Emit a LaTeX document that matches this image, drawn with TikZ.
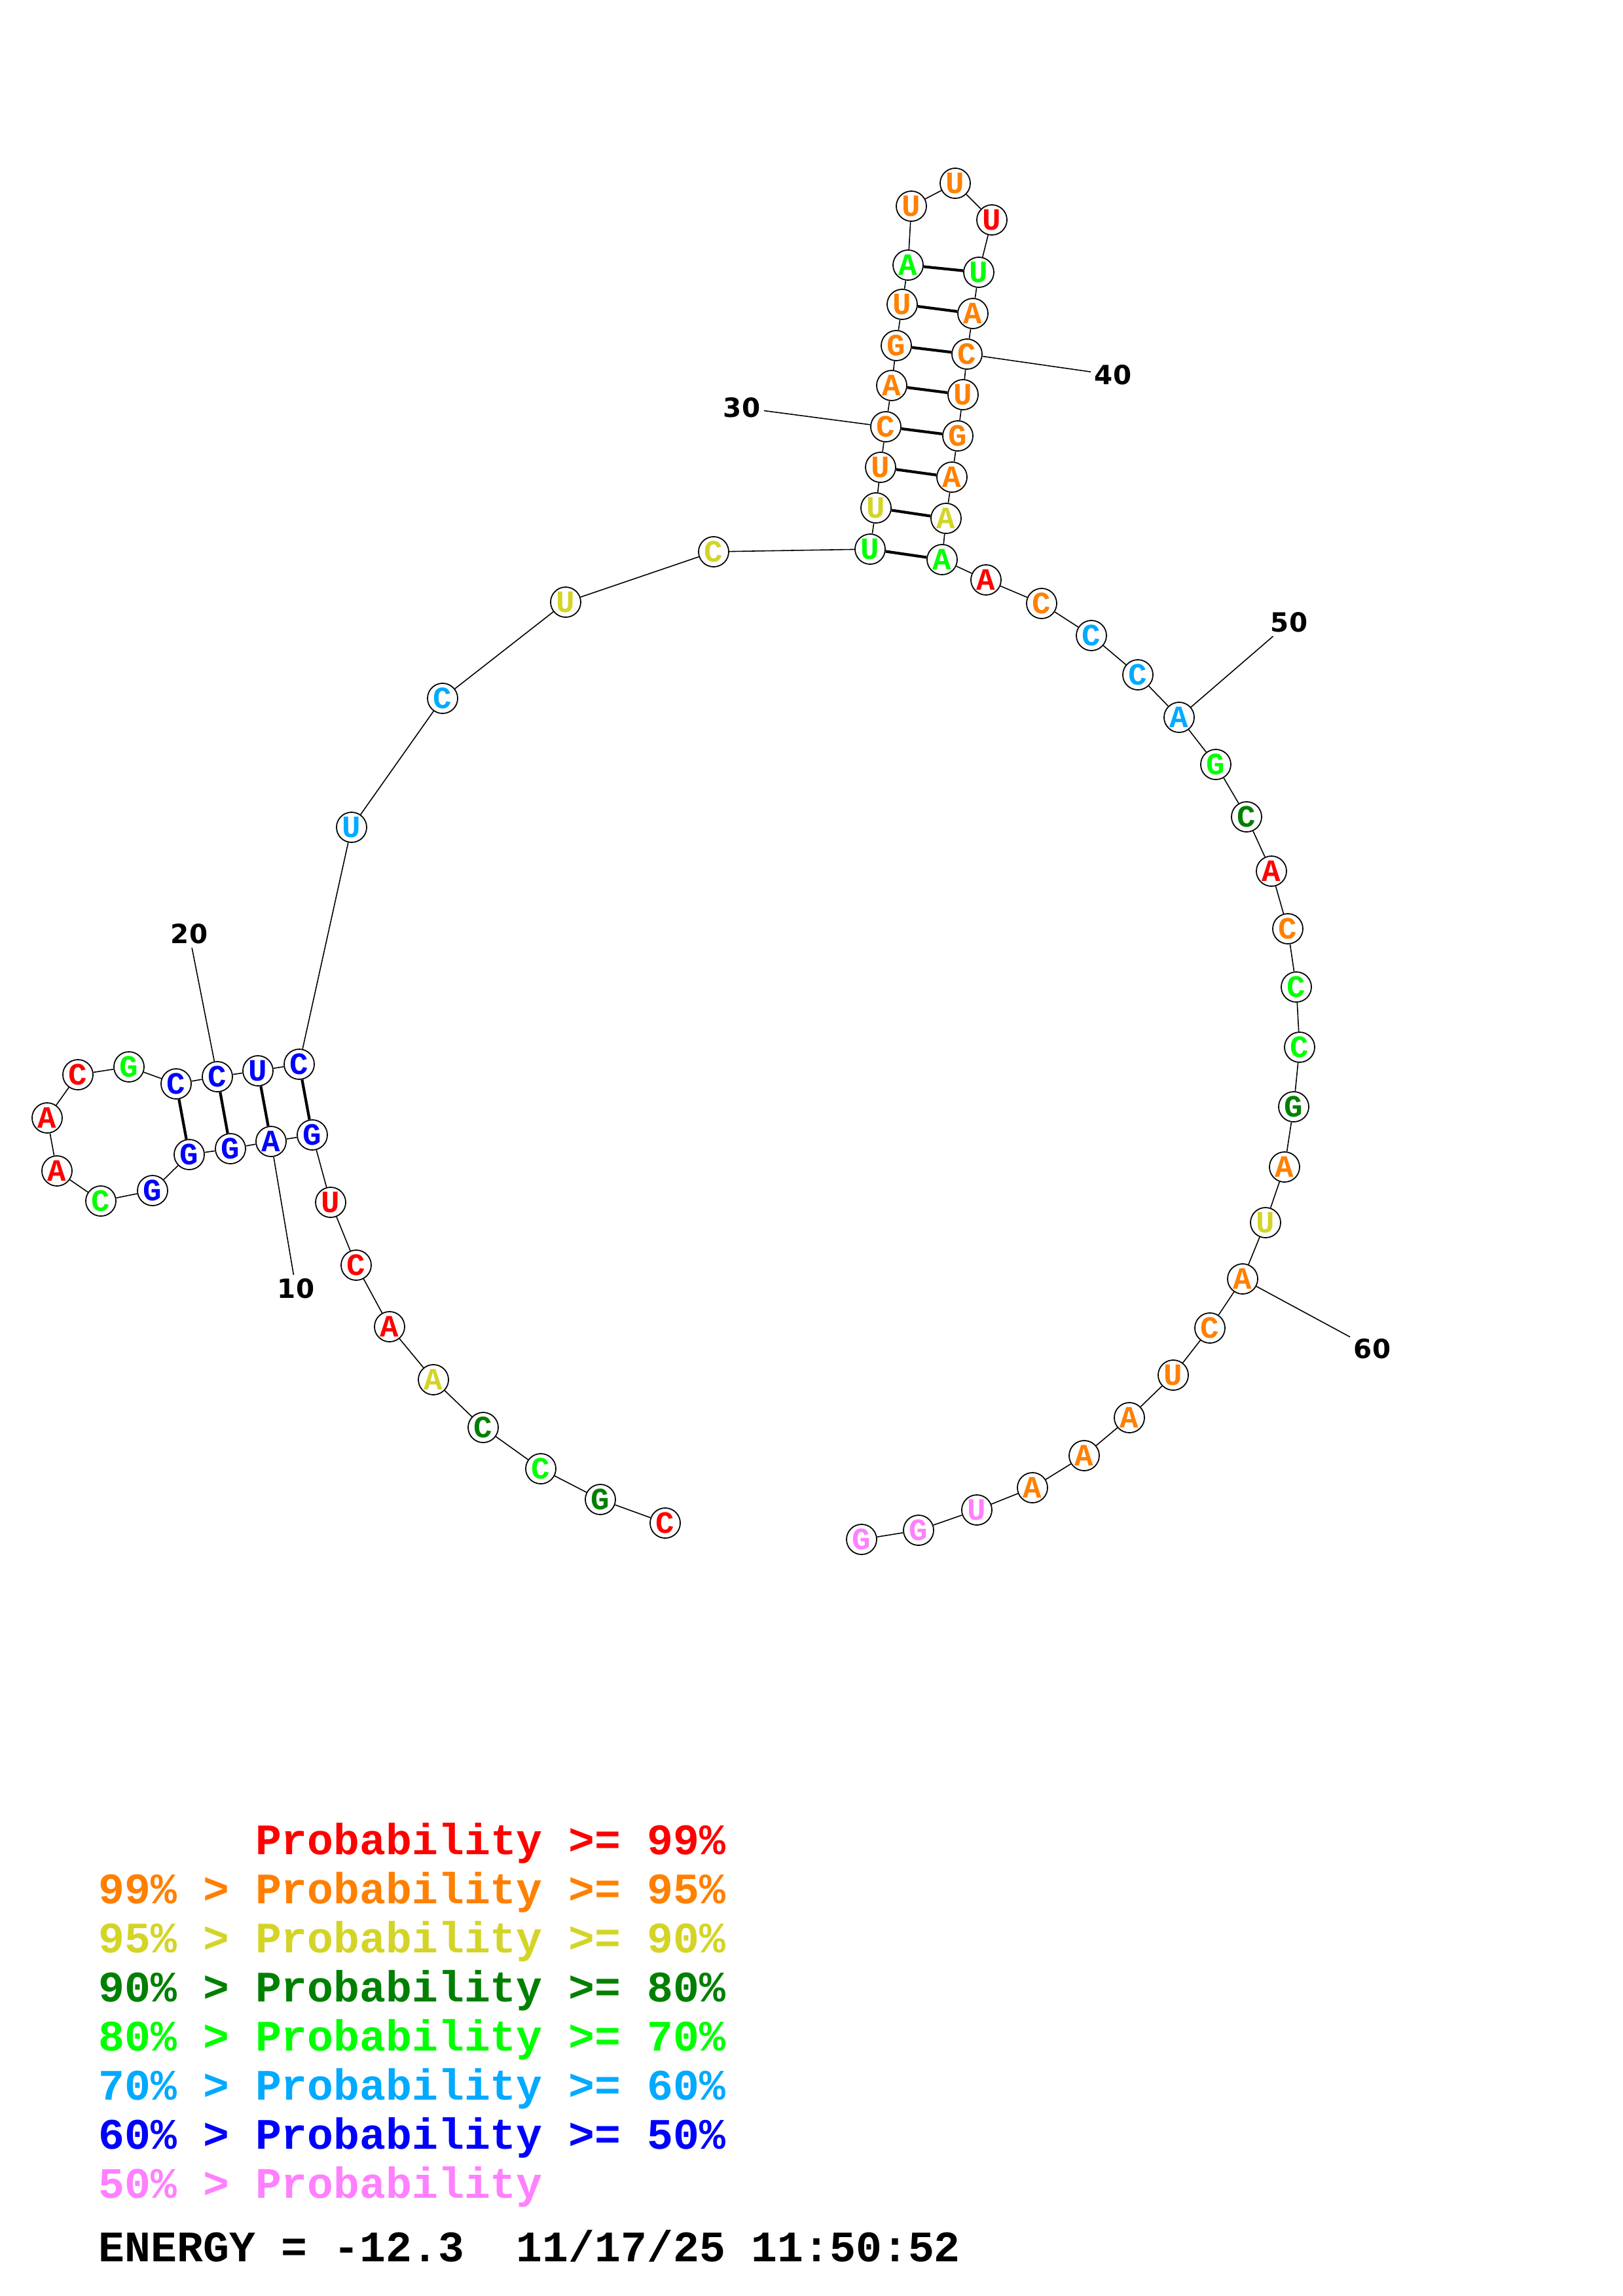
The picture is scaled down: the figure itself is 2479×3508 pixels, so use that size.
\documentclass[tikz,border=0pt]{standalone}
\usepackage{fontspec}
\setmonofont{Liberation Mono}
\newfontfamily\numfont{DejaVu Sans}

\definecolor{pred}{RGB}{255,0,0}
\definecolor{porange}{RGB}{255,128,0}
\definecolor{pyellow}{RGB}{212,212,40}
\definecolor{pdkgreen}{RGB}{0,128,0}
\definecolor{pgreen}{RGB}{0,255,0}
\definecolor{psky}{RGB}{0,170,255}
\definecolor{pblue}{RGB}{0,0,255}
\definecolor{ppink}{RGB}{255,128,255}

\tikzset{
  nt/.style={circle, draw, line width=0.5pt, minimum size=0.46cm, inner sep=0pt,
    font=\ttfamily\bfseries\fontsize{13.5}{13.5}\selectfont},
  q99/.style={nt, text=pred},
  q95/.style={nt, text=porange},
  q90/.style={nt, text=pyellow},
  q80/.style={nt, text=pdkgreen},
  q70/.style={nt, text=pgreen},
  q60/.style={nt, text=psky},
  q50/.style={nt, text=pblue},
  q00/.style={nt, text=ppink},
  bond/.style={line width=1.2pt},
  numlab/.style={inner sep=0.05cm, font=\numfont\bfseries\fontsize{11.5}{12}\selectfont},
  legend/.style={anchor=base west, inner sep=0pt, font=\ttfamily\bfseries\fontsize{18.9}{19}\selectfont}
}

\begin{document}
\begin{tikzpicture}[x=0.01cm, y=-0.01cm, line width=0.45pt]
  \useasboundingbox (0,0) rectangle (2479,3508);

  % 5' tail and first helix
  \node[q99] (n1) at (1016,2327) {C};
  \node[q80] (n2) at (917,2291) {G};
  \node[q70] (n3) at (826,2244) {C};
  \node[q80] (n4) at (738,2181) {C};
  \node[q90] (n5) at (662,2108) {A};
  \node[q99] (n6) at (595,2027) {A};
  \node[q99] (n7) at (544,1933) {C};
  \node[q99] (n8) at (505,1837) {U};
  \node[q50] (n9) at (477,1734) {G};
  \node[q50] (n10) at (414,1744) {A};
  \node[q50] (n11) at (352,1755) {G};
  \node[q50] (n12) at (289,1764) {G};
  \node[q50] (n13) at (233,1819) {G};
  \node[q70] (n14) at (154,1835) {C};
  \node[q99] (n15) at (87,1789) {A};
  \node[q99] (n16) at (72,1708) {A};
  \node[q99] (n17) at (119,1642) {C};
  \node[q70] (n18) at (197,1630) {G};
  \node[q50] (n19) at (269,1656) {C};
  \node[q50] (n20) at (332,1645) {C};
  \node[q50] (n21) at (394,1636) {U};
  \node[q50] (n22) at (457,1626) {C};
  \node[q60] (n23) at (537,1264) {U};
  \node[q60] (n24) at (676,1067) {C};
  \node[q90] (n25) at (864,920) {U};
  \node[q90] (n26) at (1090,843) {C};

  % hairpin
  \node[q70] (n27) at (1329,839) {U};
  \node[q90] (n28) at (1338,776) {U};
  \node[q95] (n29) at (1345,714) {U};
  \node[q95] (n30) at (1353,652) {C};
  \node[q95] (n31) at (1362,589) {A};
  \node[q95] (n32) at (1369,528) {G};
  \node[q95] (n33) at (1378,465) {U};
  \node[q70] (n34) at (1387,405) {A};
  \node[q95] (n35) at (1392,315) {U};
  \node[q95] (n36) at (1459,280) {U};
  \node[q99] (n37) at (1515,336) {U};
  \node[q70] (n38) at (1495,416) {U};
  \node[q95] (n39) at (1486,479) {A};
  \node[q95] (n40) at (1477,541) {C};
  \node[q95] (n41) at (1471,603) {U};
  \node[q95] (n42) at (1463,666) {G};
  \node[q95] (n43) at (1454,729) {A};
  \node[q90] (n44) at (1445,792) {A};
  \node[q70] (n45) at (1439,855) {A};

  % 3' tail
  \node[q99] (n46) at (1506,886) {A};
  \node[q95] (n47) at (1591,922) {C};
  \node[q60] (n48) at (1667,971) {C};
  \node[q60] (n49) at (1738,1031) {C};
  \node[q60] (n50) at (1801,1096) {A};
  \node[q70] (n51) at (1857,1168) {G};
  \node[q80] (n52) at (1904,1248) {C};
  \node[q99] (n53) at (1942,1331) {A};
  \node[q95] (n54) at (1967,1419) {C};
  \node[q70] (n55) at (1980,1508) {C};
  \node[q70] (n56) at (1985,1600) {C};
  \node[q80] (n57) at (1976,1691) {G};
  \node[q95] (n58) at (1962,1783) {A};
  \node[q90] (n59) at (1933,1868) {U};
  \node[q95] (n60) at (1898,1954) {A};
  \node[q95] (n61) at (1848,2029) {C};
  \node[q95] (n62) at (1792,2101) {U};
  \node[q95] (n63) at (1725,2166) {A};
  \node[q95] (n64) at (1656,2224) {A};
  \node[q95] (n65) at (1577,2273) {A};
  \node[q00] (n66) at (1492,2307) {U};
  \node[q00] (n67) at (1403,2338) {G};
  \node[q00] (n68) at (1316,2352) {G};

  % backbone
  \draw (n1) -- (n2) -- (n3) -- (n4) -- (n5) -- (n6) -- (n7) -- (n8) -- (n9)
    -- (n10) -- (n11) -- (n12) -- (n13) -- (n14) -- (n15) -- (n16) -- (n17)
    -- (n18) -- (n19) -- (n20) -- (n21) -- (n22) -- (n23) -- (n24) -- (n25)
    -- (n26) -- (n27) -- (n28) -- (n29) -- (n30) -- (n31) -- (n32) -- (n33)
    -- (n34) -- (n35) -- (n36) -- (n37) -- (n38) -- (n39) -- (n40) -- (n41)
    -- (n42) -- (n43) -- (n44) -- (n45) -- (n46) -- (n47) -- (n48) -- (n49)
    -- (n50) -- (n51) -- (n52) -- (n53) -- (n54) -- (n55) -- (n56) -- (n57)
    -- (n58) -- (n59) -- (n60) -- (n61) -- (n62) -- (n63) -- (n64) -- (n65)
    -- (n66) -- (n67) -- (n68);

  % base pairs
  \draw[bond] (n9) -- (n22);
  \draw[bond] (n10) -- (n21);
  \draw[bond] (n11) -- (n20);
  \draw[bond] (n12) -- (n19);
  \draw[bond] (n27) -- (n45);
  \draw[bond] (n28) -- (n44);
  \draw[bond] (n29) -- (n43);
  \draw[bond] (n30) -- (n42);
  \draw[bond] (n31) -- (n41);
  \draw[bond] (n32) -- (n40);
  \draw[bond] (n33) -- (n39);
  \draw[bond] (n34) -- (n38);

  % position numbers
  \node[numlab] (l10) at (452,1969) {10};
  \node[numlab] (l20) at (289,1427) {20};
  \node[numlab] (l30) at (1133,623) {30};
  \node[numlab] (l40) at (1700,573) {40};
  \node[numlab] (l50) at (1969,951) {50};
  \node[numlab] (l60) at (2096,2061) {60};
  \draw (n10) -- (l10);
  \draw (n20) -- (l20);
  \draw (n30) -- (l30);
  \draw (n40) -- (l40);
  \draw (n50) -- (l50);
  \draw (n60) -- (l60);

  % legend
  \node[legend, text=pred] (k1) at (150,2833) {\hphantom{99\% > }Probability >= 99\%};
  \node[legend, text=porange] (k2) at (150,2908) {99\% > Probability >= 95\%};
  \node[legend, text=pyellow] (k3) at (150,2983) {95\% > Probability >= 90\%};
  \node[legend, text=pdkgreen] (k4) at (150,3058) {90\% > Probability >= 80\%};
  \node[legend, text=pgreen] (k5) at (150,3133) {80\% > Probability >= 70\%};
  \node[legend, text=psky] (k6) at (150,3208) {70\% > Probability >= 60\%};
  \node[legend, text=pblue] (k7) at (150,3283) {60\% > Probability >= 50\%};
  \node[legend, text=ppink] (k8) at (150,3358) {50\% > Probability};
  \node[legend] (energy) at (150,3455) {ENERGY = -12.3\ \ 11/17/25 11:50:52};
\end{tikzpicture}
\end{document}
